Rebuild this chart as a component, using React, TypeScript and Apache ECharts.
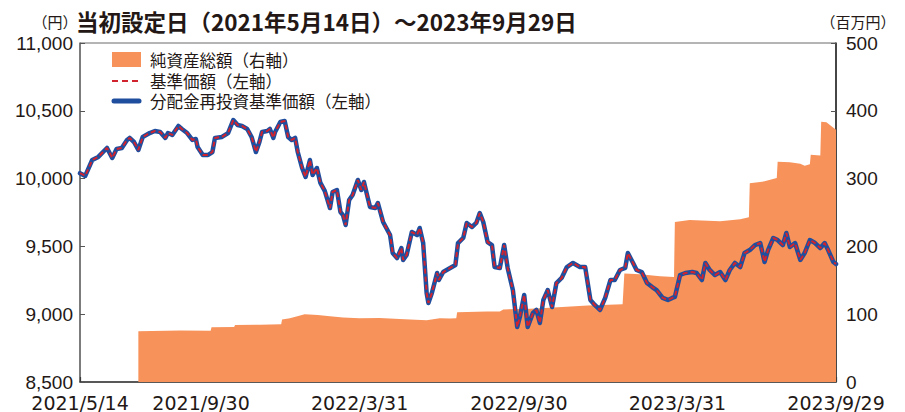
import React, { useEffect, useRef } from 'react';
import * as echarts from 'echarts';

// ---- Data ----
const titleText = '当初設定日（2021年5月14日）～2023年9月29日';
const leftUnit = '（円）';
const rightUnit = '（百万円）';
const seriesNames = ['純資産総額（右軸）', '基準価額（左軸）', '分配金再投資基準価額（左軸）'];

const startDate = '2021-05-14';
const endDate = '2023-09-29';
const xTickDates = ['2021-05-14', '2021-09-30', '2022-03-31', '2022-09-30', '2023-03-31', '2023-09-29'];

// 基準価額 (= 分配金再投資基準価額: the two lines coincide)
const navDates = [
  '2021-05-14', '2021-05-20', '2021-05-28', '2021-06-04', '2021-06-14', '2021-06-20', '2021-06-25', '2021-07-01',
  '2021-07-07', '2021-07-10', '2021-07-15', '2021-07-20', '2021-07-25', '2021-08-02', '2021-08-08', '2021-08-14',
  '2021-08-20', '2021-08-23', '2021-08-28', '2021-09-04', '2021-09-08', '2021-09-14', '2021-09-20', '2021-09-24',
  '2021-09-26', '2021-10-02', '2021-10-08', '2021-10-13', '2021-10-16', '2021-10-24', '2021-10-31', '2021-11-06',
  '2021-11-11', '2021-11-16', '2021-11-22', '2021-11-27', '2021-12-02', '2021-12-06', '2021-12-09', '2021-12-15',
  '2021-12-18', '2021-12-22', '2021-12-24', '2021-12-30', '2022-01-04', '2022-01-08', '2022-01-12', '2022-01-16',
  '2022-01-19', '2022-01-24', '2022-01-28', '2022-02-02', '2022-02-05', '2022-02-10', '2022-02-14', '2022-02-19',
  '2022-02-25', '2022-02-28', '2022-03-05', '2022-03-09', '2022-03-12', '2022-03-15', '2022-03-19', '2022-03-23',
  '2022-03-29', '2022-04-02', '2022-04-05', '2022-04-10', '2022-04-12', '2022-04-18', '2022-04-21', '2022-04-27',
  '2022-05-05', '2022-05-08', '2022-05-13', '2022-05-18', '2022-05-20', '2022-05-24', '2022-05-30', '2022-06-05',
  '2022-06-08', '2022-06-12', '2022-06-16', '2022-06-18', '2022-06-22', '2022-06-28', '2022-06-30', '2022-07-05',
  '2022-07-13', '2022-07-19', '2022-07-22', '2022-07-28', '2022-08-01', '2022-08-07', '2022-08-12', '2022-08-16',
  '2022-08-20', '2022-08-25', '2022-08-30', '2022-09-02', '2022-09-08', '2022-09-13', '2022-09-17', '2022-09-23',
  '2022-09-28', '2022-10-01', '2022-10-06', '2022-10-10', '2022-10-16', '2022-10-20', '2022-10-24', '2022-10-28',
  '2022-11-02', '2022-11-07', '2022-11-12', '2022-11-18', '2022-11-24', '2022-12-01', '2022-12-09', '2022-12-15',
  '2022-12-21', '2022-12-26', '2023-01-01', '2023-01-07', '2023-01-13', '2023-01-18', '2023-01-24', '2023-01-30',
  '2023-02-02', '2023-02-08', '2023-02-12', '2023-02-18', '2023-02-24', '2023-03-02', '2023-03-07', '2023-03-14',
  '2023-03-20', '2023-03-25', '2023-03-28', '2023-04-03', '2023-04-09', '2023-04-17', '2023-04-22', '2023-04-28',
  '2023-05-02', '2023-05-07', '2023-05-13', '2023-05-19', '2023-05-25', '2023-05-30', '2023-06-05', '2023-06-11',
  '2023-06-16', '2023-06-22', '2023-06-28', '2023-07-04', '2023-07-09', '2023-07-13', '2023-07-19', '2023-07-24',
  '2023-07-30', '2023-08-03', '2023-08-07', '2023-08-13', '2023-08-19', '2023-08-24', '2023-08-30', '2023-09-05',
  '2023-09-11', '2023-09-16', '2023-09-20', '2023-09-26', '2023-09-29',
];
const navValues = [
  10040, 10020, 10137, 10160, 10226, 10152, 10218, 10226,
  10285, 10300, 10270, 10211, 10307, 10336, 10351, 10344,
  10300, 10336, 10322, 10388, 10366, 10336, 10285, 10292,
  10233, 10174, 10174, 10196, 10300, 10307, 10336, 10432,
  10395, 10388, 10366, 10307, 10196, 10270, 10344, 10351,
  10366, 10300, 10344, 10417, 10425, 10307, 10285, 10300,
  10196, 10078, 10012, 10137, 10027, 10078, 9968, 9909,
  9783, 9901, 9916, 9754, 9731, 9658, 9842, 9879,
  9990, 9916, 9975, 9842, 9791, 9783, 9820, 9680,
  9584, 9451, 9414, 9488, 9400, 9437, 9606, 9584,
  9636, 9525, 9156, 9083, 9156, 9304, 9252, 9311,
  9341, 9363, 9525, 9562, 9673, 9643, 9673, 9746,
  9680, 9532, 9510, 9348, 9341, 9510, 9341, 9178,
  8906, 8979, 9142, 8906, 9009, 9031, 8935, 9105,
  9178, 9053, 9230, 9267, 9348, 9378, 9348, 9348,
  9105, 9068, 9031, 9120, 9252, 9252, 9326, 9341,
  9451, 9378, 9326, 9311, 9230, 9200, 9178, 9120,
  9105, 9120, 9127, 9289, 9304, 9311, 9304, 9252,
  9378, 9326, 9289, 9311, 9252, 9326, 9378, 9348,
  9451, 9473, 9510, 9525, 9385, 9473, 9562, 9547,
  9510, 9599, 9495, 9525, 9400, 9451, 9547, 9525,
  9488, 9525, 9473, 9385, 9370,
];

// 純資産総額 (百万円)
const assetDates = [
  '2021-07-20', '2021-09-06', '2021-10-11', '2021-10-12', '2021-11-07', '2021-11-08', '2021-12-07', '2021-12-31',
  '2022-01-01', '2022-01-10', '2022-01-27', '2022-02-11', '2022-02-25', '2022-03-12', '2022-03-31', '2022-04-23',
  '2022-05-16', '2022-05-28', '2022-06-16', '2022-07-01', '2022-07-13', '2022-07-20', '2022-07-21', '2022-08-24',
  '2022-09-08', '2022-09-12', '2022-10-13', '2022-10-30', '2022-12-18', '2023-01-27', '2023-01-29', '2023-02-16',
  '2023-03-11', '2023-03-27', '2023-03-28', '2023-04-14', '2023-05-19', '2023-06-11', '2023-06-21', '2023-06-22',
  '2023-07-09', '2023-07-23', '2023-07-24', '2023-08-07', '2023-08-19', '2023-08-24', '2023-08-30', '2023-08-31',
  '2023-09-11', '2023-09-12', '2023-09-18', '2023-09-22', '2023-09-26', '2023-09-29',
];
const assetValues = [
  75, 76, 75.5, 80.7, 81, 84, 84.5, 85,
  92, 94, 100, 99, 97, 95, 94, 94.5,
  93, 92, 91, 94, 93.5, 94, 103, 104,
  104, 107, 108, 109, 113, 114.5, 160, 159,
  156, 155, 236, 239, 237, 240, 243, 293,
  296, 301, 325, 324, 322, 319, 321, 335,
  334, 384, 383, 379, 375, 372,
];

const leftMin = 8500, leftMax = 11000, leftStep = 500;
const rightMin = 0, rightMax = 500, rightStep = 100;

// ---- Styles ----
const TEXT = '#231815';
const ORANGE = '#F7925A';
const BLUE = '#1F4E9E';
const RED = '#D0232E';
const CJK = '"Noto Sans CJK JP", sans-serif';

const ts = (s: string) => {
  const [y, m, d] = s.split('-').map(Number);
  return new Date(y, m - 1, d).getTime();
};
const fmt = (v: number) => {
  const d = new Date(v);
  return `${d.getFullYear()}/${d.getMonth() + 1}/${d.getDate()}`;
};

export default function App() {
  const ref = useRef<HTMLDivElement>(null);
  useEffect(() => {
    if (!ref.current) return;
    const chart = echarts.init(ref.current, null, { renderer: 'svg' });
    const navData = navDates.map((d, i) => [ts(d), navValues[i]]);
    const assetData = assetDates.map((d, i) => [ts(d), assetValues[i]]);
    const tickTs = xTickDates.map(ts);

    const legendX = 112;
    const legendTextX = 150;
    const rowY = [60, 81, 101];

    chart.setOption({
      animation: false,
      backgroundColor: '#fff',
      title: {
        text: titleText,
        left: 76,
        top: 9,
        padding: 0,
        textStyle: { fontSize: 22.5, fontWeight: 'bold', fontFamily: CJK, color: TEXT, lineHeight: 23 },
      },
      grid: {
        left: 80, right: 69, top: 43, bottom: 30,
        containLabel: false,
        outerBoundsMode: 'none',
        show: true,
        borderColor: '#6a6a6a',
        borderWidth: 1,
      },
      xAxis: {
        type: 'value',
        min: ts(startDate),
        max: ts(endDate),
        axisLine: { show: true, lineStyle: { color: '#3a3a3a', width: 1.5 } },
        axisTick: { show: true, inside: true, length: 5, customValues: tickTs, lineStyle: { color: '#3a3a3a', width: 1.2 } },
        axisLabel: {
          customValues: tickTs,
          formatter: (v: number) => fmt(v),
          showMinLabel: true,
          showMaxLabel: true,
          hideOverlap: false,
          margin: 13,
          lineHeight: 15,
          color: TEXT,
          fontSize: 19,
          fontFamily: 'DejaVu Sans',
        },
        splitLine: { show: false },
      },
      yAxis: [
        {
          type: 'value',
          min: leftMin, max: leftMax, interval: leftStep,
          position: 'left',
          axisLine: { show: true, lineStyle: { color: '#6a6a6a', width: 1.5 } },
          axisTick: { show: true, inside: true, length: 5, lineStyle: { color: '#555' } },
          axisLabel: {
            formatter: (v: number) => v.toLocaleString('en-US'),
            margin: 7, color: TEXT, fontSize: 19, fontFamily: 'Liberation Sans',
          },
          splitLine: { show: false },
        },
        {
          type: 'value',
          min: rightMin, max: rightMax, interval: rightStep,
          position: 'right',
          axisLine: { show: true, lineStyle: { color: '#222', width: 1.5 } },
          axisTick: { show: true, inside: true, length: 5, lineStyle: { color: '#555' } },
          axisLabel: { margin: 10, color: TEXT, fontSize: 19, fontFamily: 'Liberation Sans' },
          splitLine: { show: false },
        },
      ],
      series: [
        {
          name: seriesNames[0],
          type: 'line',
          yAxisIndex: 1,
          data: assetData,
          symbol: 'none',
          lineStyle: { width: 0, color: ORANGE },
          itemStyle: { color: ORANGE },
          areaStyle: { color: ORANGE, opacity: 1 },
          z: 1,
        },
        {
          name: seriesNames[2],
          type: 'line',
          yAxisIndex: 0,
          data: navData,
          symbol: 'none',
          lineStyle: { width: 4.5, color: BLUE, join: 'round', cap: 'round' },
          itemStyle: { color: BLUE },
          z: 2,
        },
        {
          name: seriesNames[1],
          type: 'line',
          yAxisIndex: 0,
          data: navData,
          symbol: 'none',
          lineStyle: { width: 2, color: RED, type: [5, 3] },
          itemStyle: { color: RED },
          z: 3,
        },
      ],
      graphic: [
        { type: 'text', x: 55, y: 21, style: { text: leftUnit, fontSize: 15, fontFamily: CJK, fill: TEXT, align: 'center', verticalAlign: 'middle', lineHeight: 16 } },
        { type: 'text', x: 858, y: 21, style: { text: rightUnit, fontSize: 15, fontFamily: CJK, fill: TEXT, align: 'center', verticalAlign: 'middle', lineHeight: 16 } },
        { type: 'rect', shape: { x: legendX, y: 52, width: 29, height: 15 }, style: { fill: ORANGE } },
        { type: 'line', shape: { x1: legendX, y1: rowY[1], x2: legendX + 29, y2: rowY[1] }, style: { stroke: RED, lineWidth: 2.2, lineDash: [6, 4] } },
        { type: 'line', shape: { x1: legendX + 2, y1: rowY[2], x2: legendX + 27, y2: rowY[2] }, style: { stroke: BLUE, lineWidth: 5, lineCap: 'round' } },
        ...seriesNames.map((n, i) => ({
          type: 'text',
          x: legendTextX,
          y: rowY[i],
          style: { text: n, fontSize: 16.5, lineHeight: 18, fontFamily: CJK, fill: TEXT, verticalAlign: 'middle', align: 'left' },
        })),
      ],
    });
    return () => chart.dispose();
  }, []);
  return <div ref={ref} style={{ position: 'absolute', left: 0, top: 0, width: 905, height: 412 }} />;
}
